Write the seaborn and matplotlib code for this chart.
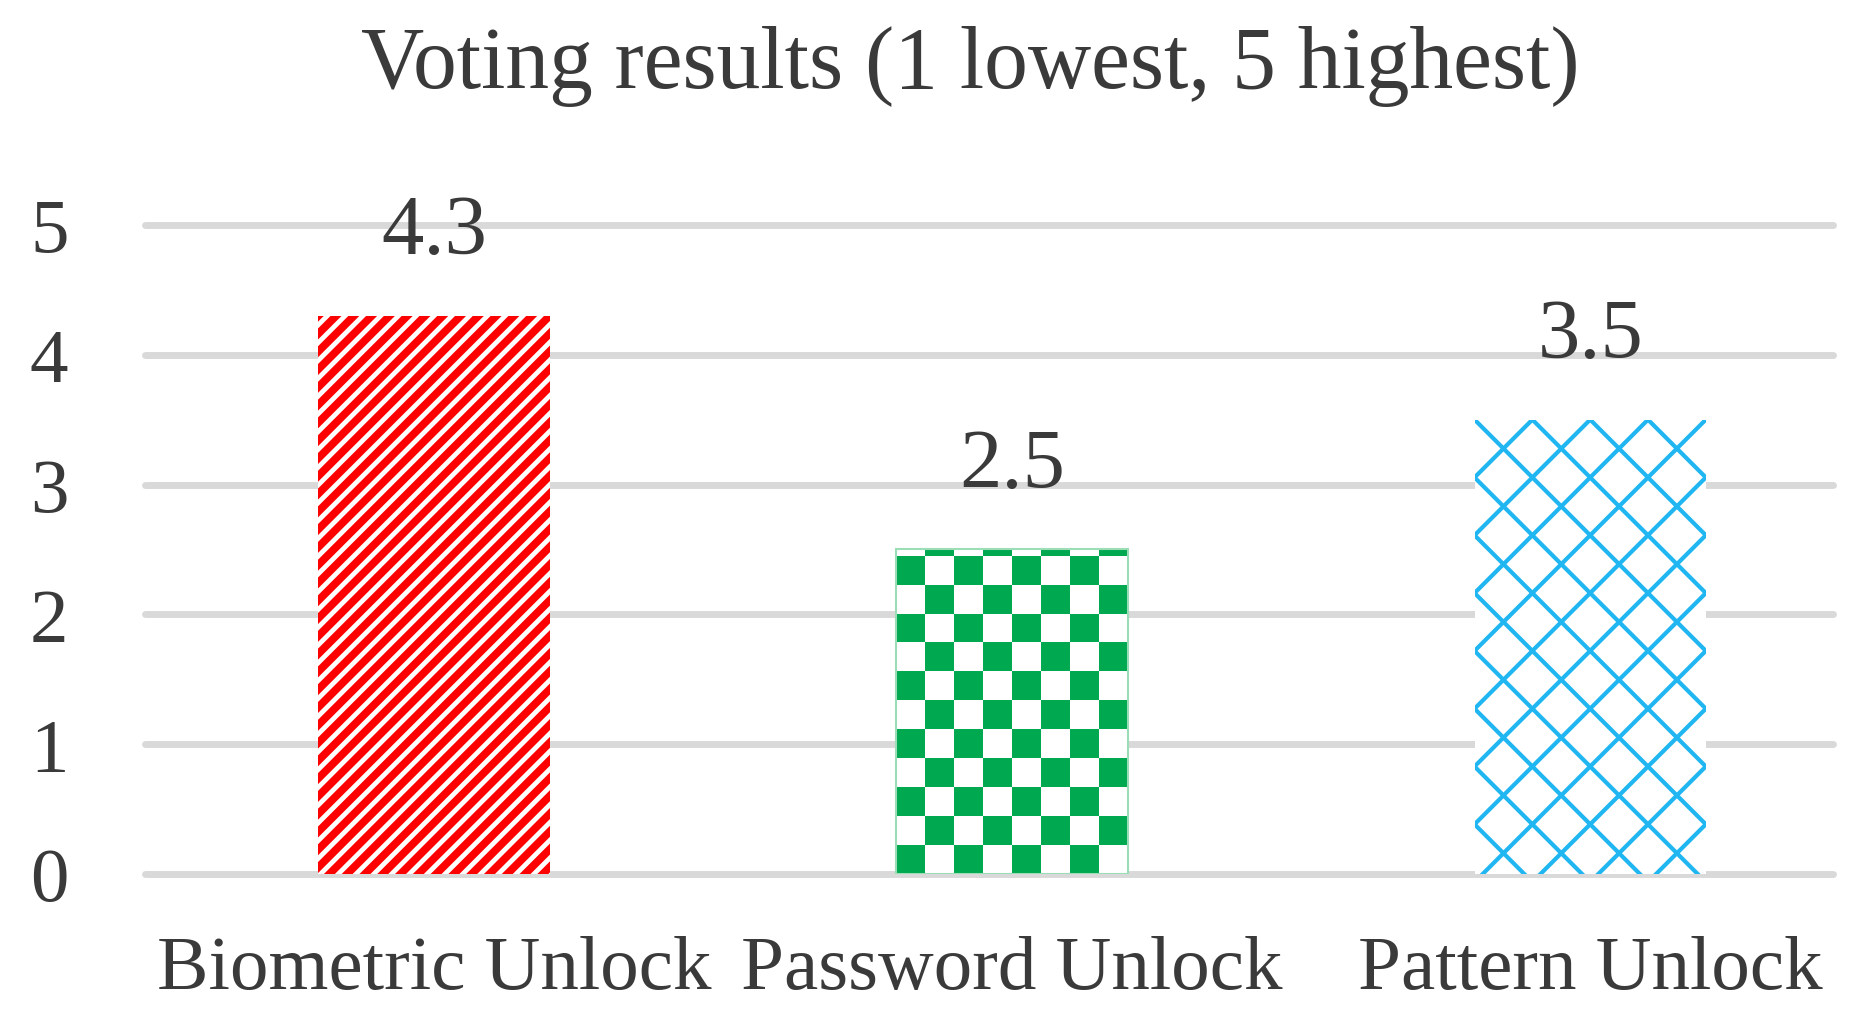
import numpy as np
import pandas as pd
import seaborn as sns
import matplotlib.pyplot as plt
from matplotlib.colors import ListedColormap

methods = ["Biometric Unlock", "Password Unlock", "Pattern Unlock"]
scores = [4.3, 2.5, 3.5]
y_ticks = [0, 1, 2, 3, 4, 5]

red = "#FF0000"
green = "#00A850"
blue = "#1FB6F1"
text_col = "#3A3A3A"

sns.set_theme(style="white")
plt.rcParams["font.family"] = ["Liberation Serif", "DejaVu Serif"]

df = pd.DataFrame({"method": methods, "score": scores})

fig = plt.figure(figsize=(18.66, 10.2), dpi=100)
ax = fig.add_axes([0.0777, 0.1422, 0.9046, 0.6363])

sns.barplot(data=df, x="method", y="score", color="white", width=0.4,
            errorbar=None, ax=ax, zorder=2)

ax.set_xlim(-0.5, 2.42)
ax.set_ylim(0, 5)
ax.set_yticks(y_ticks)
ax.set_xlabel("")
ax.set_ylabel("")
sns.despine(left=True, bottom=True)
ax.grid(axis="y", color="#D9D9D9", linewidth=5)
ax.set_axisbelow(True)
for gl in ax.get_ygridlines():
    gl.set_clip_on(False)
ax.tick_params(axis="x", length=0, pad=44, labelsize=55.5, labelcolor=text_col)
ax.tick_params(axis="y", length=0, pad=55, labelsize=55.5, labelcolor=text_col)

bars = ax.patches
to_px = ax.transData
to_data = ax.transData.inverted()


def bar_px(b):
    return to_px.transform([(b.get_x(), 0), (b.get_x() + b.get_width(), b.get_height())])


def diag_lines(b, period, slopes, color, lw):
    (x0, y0), (x1, y1) = bar_px(b)
    span = y1 - y0
    xa, xb = x0 - span, x1 + span
    n = int(np.ceil((span + (x1 - x0)) / period)) + 2
    for k in range(-n, n + 1):
        for sign in slopes:
            c = (y1 - sign * x0) + k * period
            pts = to_data.transform([(xa, sign * xa + c), (xb, sign * xb + c)])
            ln, = ax.plot(pts[:, 0], pts[:, 1], color=color, lw=lw,
                          scalex=False, scaley=False, zorder=2.1)
            ln.set_clip_path(b)


# red diagonal stripes
b = bars[0]
b.set_facecolor("white")
b.set_linewidth(0)
diag_lines(b, (bar_px(b)[1][0] - bar_px(b)[0][0]) / 13, (1,), red, 5.6)

# green checkerboard
b = bars[1]
(x0, y0), (x1, y1) = bar_px(b)
cell = (x1 - x0) / 8
nrows = int(np.ceil((y1 - y0) / cell))
board = np.indices((nrows, 8)).sum(axis=0) % 2
top = to_data.transform((x0, y0 + nrows * cell))[1]
b.set_facecolor("none")
b.set_edgecolor("#9BDDB5")
b.set_linewidth(1.5)
im = ax.imshow(board, cmap=ListedColormap([green, "white"]), origin="lower",
               extent=(b.get_x(), b.get_x() + b.get_width(), 0, top),
               aspect="auto", interpolation="nearest", zorder=1.9)
im.set_clip_path(b)

# blue diamond lattice
b = bars[2]
b.set_facecolor("white")
b.set_linewidth(0)
diag_lines(b, (bar_px(b)[1][0] - bar_px(b)[0][0]) / 4, (1, -1), blue, 3.0)

ax.bar_label(ax.containers[0], fmt="%.1f", padding=32, fontsize=61, color=text_col)

ax.set_xlim(-0.5, 2.42)
ax.set_ylim(0, 5)

fig.text(0.52, 0.935, "Voting results (1 lowest, 5 highest)", ha="center", va="center",
         fontsize=63, color=text_col)

fig.savefig("out.png", dpi=100)
